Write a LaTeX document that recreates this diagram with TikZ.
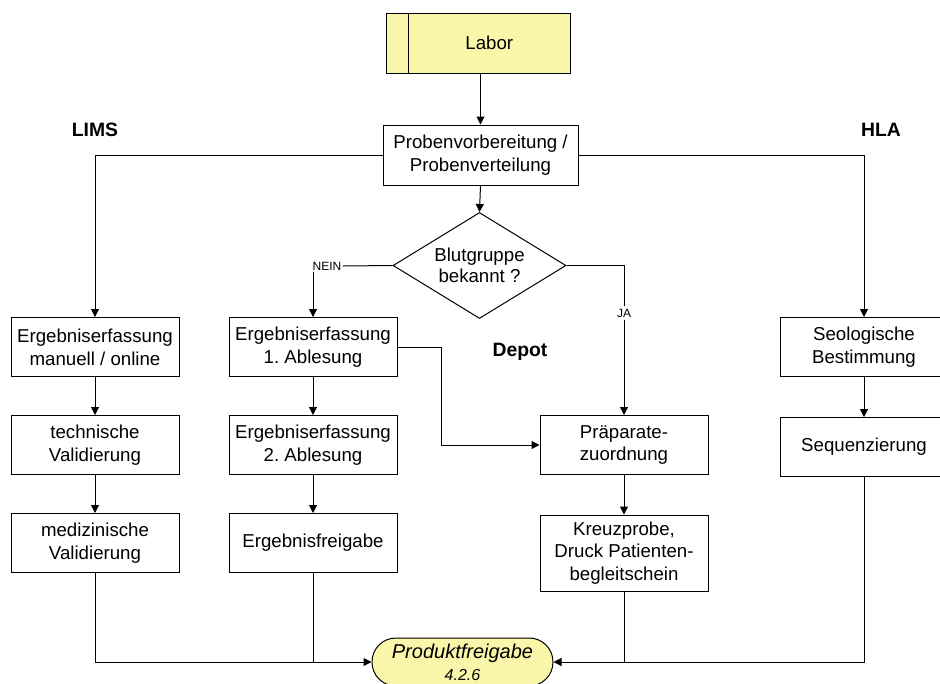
\documentclass[tikz,border=0pt]{standalone}
\usepackage{fontspec}
\setmainfont{Liberation Sans}
\usetikzlibrary{shapes.geometric,arrows.meta}
\definecolor{labyellow}{RGB}{250,247,170}
\frenchspacing
\tikzset{
  box/.style={draw=black, fill=white, line width=0.75pt, minimum width=126pt, minimum height=44.25pt,
    inner sep=0pt, align=center, font=\fontsize{14}{17}\selectfont},
  lbl/.style={font=\fontsize{14.5}{17}\selectfont\bfseries},
  small/.style={font=\fontsize{9}{10}\selectfont, inner sep=1pt, fill=white},
  conn/.style={line width=0.75pt, draw=black},
  arr/.style={conn, -{Triangle[length=6pt,width=6pt]}}
}
\begin{document}
\begin{tikzpicture}[x=0.75pt,y=-0.75pt]
\useasboundingbox (0,0) rectangle (940,683);
\clip (0,0) rectangle (940,683);
% top
\node[box, fill=labyellow, minimum width=138pt, minimum height=45pt] (labor) at (478,43) {\hspace*{17pt}Labor};
\draw[conn] ([xshift=17.25pt]labor.north west) -- ([xshift=17.25pt]labor.south west);
\node[box, minimum width=146.25pt, minimum height=45pt] (proben) at (480.5,155) {Probenvorbereitung /\\Probenverteilung};
\node[draw=black, line width=0.75pt, fill=white, diamond, aspect=1.63, inner sep=0pt,
  minimum width=129.75pt, minimum height=79.5pt, align=center,
  font=\fontsize{14}{16}\selectfont] (dia) at (479.5,265.5) {Blutgruppe\\bekannt ?};
% labels
\node[lbl] (lims) at (95,130) {LIMS};
\node[lbl] (hla) at (881,130) {HLA};
\node[lbl] (depot) at (520,352) {Depot};
% LIMS column
\node[box] (e1) at (95,347) {Ergebniserfassung\\manuell / online};
\node[box] (tv) at (95,445) {technische\\Validierung};
\node[box] (mv) at (95,543) {medizinische\\Validierung};
% middle column
\node[box] (a1) at (313,347) {Ergebniserfassung\\1. Ablesung};
\node[box] (a2) at (313,445) {Ergebniserfassung\\2. Ablesung};
\node[box] (ef) at (313,543) {Ergebnisfreigabe};
% depot column
\node[box] (pz) at (624,445) {Präparate-\\zuordnung};
\node[box, minimum height=57pt] (kp) at (624,553) {Kreuzprobe,\\Druck Patienten-\\begleitschein};
% HLA column
\node[box] (sb) at (864,347) {Seologische\\Bestimmung};
\node[box] (sq) at (864,447) {Sequenzierung};
% terminal
\node[draw=black, line width=0.75pt, fill=labyellow, rounded corners=17.9pt,
  minimum width=135.75pt, minimum height=36pt, inner sep=0pt, align=center] (term) at (462.5,662)
  {{\fontsize{15}{17}\selectfont\itshape Produktfreigabe}\\[4.5pt]{\fontsize{12}{13}\selectfont\itshape 4.2.6}};
% NEIN / JA
\node[small] (nein) at (327,266) {NEIN};
\node[small, inner sep=2pt] (ja) at (624,313) {JA};
% connectors
\draw[arr] (proben.north |- labor.south) -- (proben.north);
\draw[arr] (proben.south) -- (dia.north);
\draw[conn] (dia.west) -- (nein.east);
\draw[arr] (nein.south -| a1.north) -- (a1.north);
\draw[conn] (dia.east) -| (ja.north);
\draw[arr] (ja.south) -- (pz.north);
\draw[arr] (a1.east) -- ++(44,0) |- (pz.west);
\draw[arr] (proben.west) -| (e1.north);
\draw[arr] (proben.east) -| (sb.north);
\draw[arr] (e1) -- (tv);
\draw[arr] (tv) -- (mv);
\draw[arr] (a1) -- (a2);
\draw[arr] (a2) -- (ef);
\draw[arr] (pz) -- (kp);
\draw[arr] (sb) -- (sq);
\draw[arr] (mv.south) |- (term.west);
\draw[conn] (ef.south) -- (ef.south |- term.west);
\draw[arr] (sq.south) |- (term.east);
\draw[conn] (kp.south) -- (kp.south |- term.east);
\end{tikzpicture}
\end{document}
